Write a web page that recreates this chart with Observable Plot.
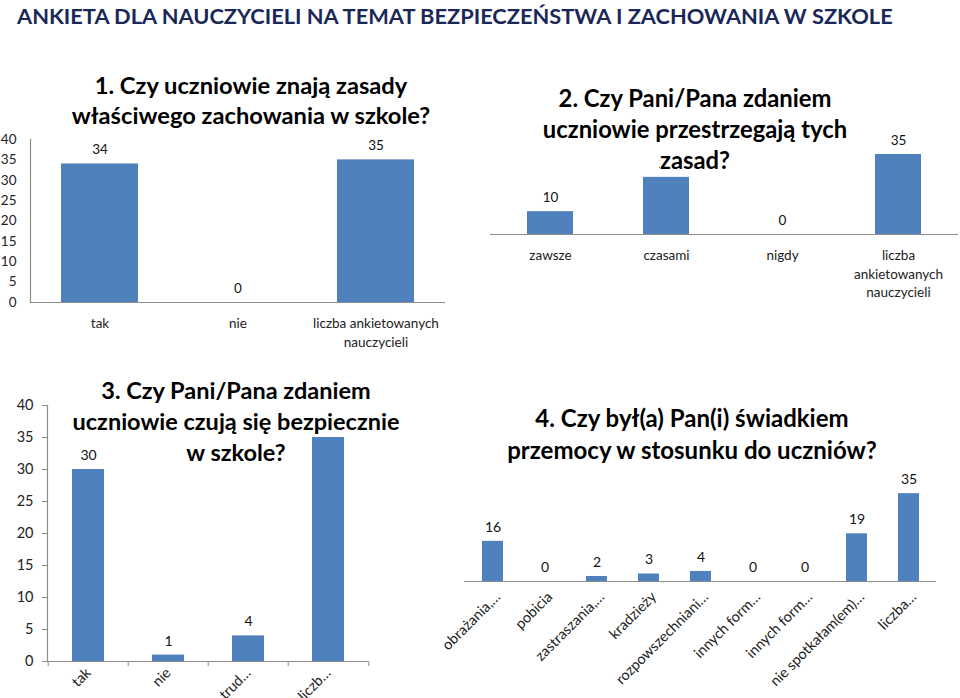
<!DOCTYPE html>
<html><head><meta charset="utf-8">
<script src="https://cdn.jsdelivr.net/npm/d3@7"></script>
<script src="https://cdn.jsdelivr.net/npm/@observablehq/plot@0.6"></script>
<style>
body{margin:0;background:#fff;font-family:Lato,"Open Sans",sans-serif;}
#page{position:relative;width:960px;height:698px;overflow:hidden;background:#fff;}
#page svg{position:absolute;left:0;top:0;}
.main{position:absolute;left:17px;top:3px;font-size:21.8px;font-weight:700;color:#1a2858;white-space:nowrap;line-height:26px;z-index:5;}
.t{position:absolute;font-weight:700;color:#000;text-align:center;white-space:nowrap;transform:translateX(-50%);z-index:5;}
.t span{background:#fff;}
</style></head><body><div id="page"></div>
<script>
const mainTitle = "ANKIETA DLA NAUCZYCIELI NA TEMAT BEZPIECZEŃSTWA I ZACHOWANIA W SZKOLE";

const q1Title = ["1. Czy uczniowie znają zasady", "właściwego zachowania w szkole?"];
const q1Cats = ["tak", "nie", "liczba ankietowanych\nnauczycieli"];
const q1Vals = [34, 0, 35];

const q2Title = ["2. Czy Pani/Pana zdaniem", "uczniowie przestrzegają tych", "zasad?"];
const q2Cats = ["zawsze", "czasami", "nigdy", "liczba\nankietowanych\nnauczycieli"];
const q2Vals = [10, 25, 0, 35];

const q3Title = ["3. Czy Pani/Pana zdaniem", "uczniowie czują się bezpiecznie", "w szkole?"];
const q3Cats = ["tak", "nie", "trud…", "liczb…"];
const q3Vals = [30, 1, 4, 35];

const q4Title = ["4. Czy był(a) Pan(i) świadkiem", "przemocy w stosunku do uczniów?"];
const q4Cats = ["obrażania,…", "pobicia", "zastraszania,…", "kradzieży", "rozpowszechniani…", "innych form…", "innych form…", "nie spotkałam(em)…", "liczba…"];
const q4Vals = [16, 0, 2, 3, 4, 0, 0, 19, 35];

const yTicks = [0, 5, 10, 15, 20, 25, 30, 35, 40];
const yMax = 40;

const BLUE = "#4f81bd";
const AXIS = "#8c8c8c";
const W = 960, H = 698;
const page = document.getElementById("page");

const mt = document.createElement("div");
mt.className = "main"; mt.textContent = mainTitle; page.appendChild(mt);

function chart(o) {
  const n = o.cats.length;
  const data = o.vals.map((v, i) => ({i, v}));
  const [x0, x1, yBase, yTop] = o.frame;
  const step = (x1 - x0) / (n - o.padIn + 2 * o.padOut);
  const marks = [
    Plot.barY(data, {x: "i", y: "v", fill: BLUE}),
    Plot.ruleY([0], {stroke: AXIS, strokeWidth: 1.2}),
    Plot.text(data, {x: "i", y: "v", text: d => String(d.v), dy: -14, fontSize: o.valSize, fill: "#111"}),
    Plot.axisX({tickFormat: i => o.cats[i], tickSize: 0, tickPadding: o.xPad, fontSize: o.xSize,
      fill: "#222", lineHeight: o.lineHeight || 1, tickRotate: o.rotate || 0, dx: o.xDx || 0, label: null})
  ];
  if (o.yAxis) {
    marks.push(Plot.axisY({ticks: yTicks, tickSize: o.yTickSize, tickPadding: o.yPad, fontSize: o.ySize,
      fill: "#222", stroke: AXIS, label: null}));
    marks.push(Plot.frame({anchor: "left", stroke: AXIS, strokeWidth: 1.2}));
  }
  if (o.boundaryTicks) {
    marks.push(Plot.ruleX(d3.range(n), {x: d => d, y1: 0, y2: -0.8, dx: -step / 2, stroke: AXIS}));
    marks.push(Plot.ruleX([n - 1], {x: d => d, y1: 0, y2: -0.8, dx: step / 2, stroke: AXIS}));
  }
  const svg = Plot.plot({
    width: W, height: H,
    marginLeft: x0, marginRight: W - x1, marginTop: yTop, marginBottom: H - yBase,
    x: {type: "band", domain: d3.range(n), paddingInner: o.padIn, paddingOuter: o.padOut},
    y: o.yAxis ? {domain: [0, yMax]} : {domain: [0, yMax], axis: null},
    style: {background: "transparent", fontFamily: "Lato, 'Open Sans', sans-serif", overflow: "visible"},
    marks
  });
  page.appendChild(svg);

  const t = document.createElement("div");
  t.className = "t";
  t.style.left = o.title.cx + "px";
  t.style.top = (o.title.cy - o.title.lh / 2) + "px";
  t.style.fontSize = o.title.size + "px";
  t.style.lineHeight = o.title.lh + "px";
  o.title.lines.forEach((line, k) => {
    const s = document.createElement("span");
    s.textContent = line;
    t.appendChild(s);
    if (k < o.title.lines.length - 1) t.appendChild(document.createElement("br"));
  });
  page.appendChild(t);
}

chart({cats: q1Cats, vals: q1Vals, frame: [30, 445, 302, 139], padIn: 0.44, padOut: 0.22,
  valSize: 13.5, xSize: 13.5, xPad: 13, lineHeight: 1.35,
  yAxis: true, yTickSize: 0, yPad: 14, ySize: 13.5,
  title: {lines: q1Title, cx: 251, cy: 85, lh: 30, size: 23.7}});

chart({cats: q2Cats, vals: q2Vals, frame: [490, 958, 234, 234 - 2.286 * 40], padIn: 0.607, padOut: 0.31,
  valSize: 13.5, xSize: 13.5, xPad: 13, lineHeight: 1.35,
  title: {lines: q2Title, cx: 695, cy: 98, lh: 31, size: 23.8}});

chart({cats: q3Cats, vals: q3Vals, frame: [47, 368, 661, 405], padIn: 0.6, padOut: 0.29,
  valSize: 14, xSize: 14.5, xPad: 9, rotate: -45,
  yAxis: true, yTickSize: 5, yPad: 9, ySize: 14.5, boundaryTicks: true,
  title: {lines: q3Title, cx: 236, cy: 390, lh: 31, size: 23.5}});

chart({cats: q4Cats, vals: q4Vals, frame: [464, 936, 581, 581 - 2.51 * 40], padIn: 0.6, padOut: 0.305,
  valSize: 14, xSize: 14.5, xPad: 13, rotate: -45, xDx: 5,
  title: {lines: q4Title, cx: 692, cy: 418, lh: 32, size: 24}});
</script></body></html>
